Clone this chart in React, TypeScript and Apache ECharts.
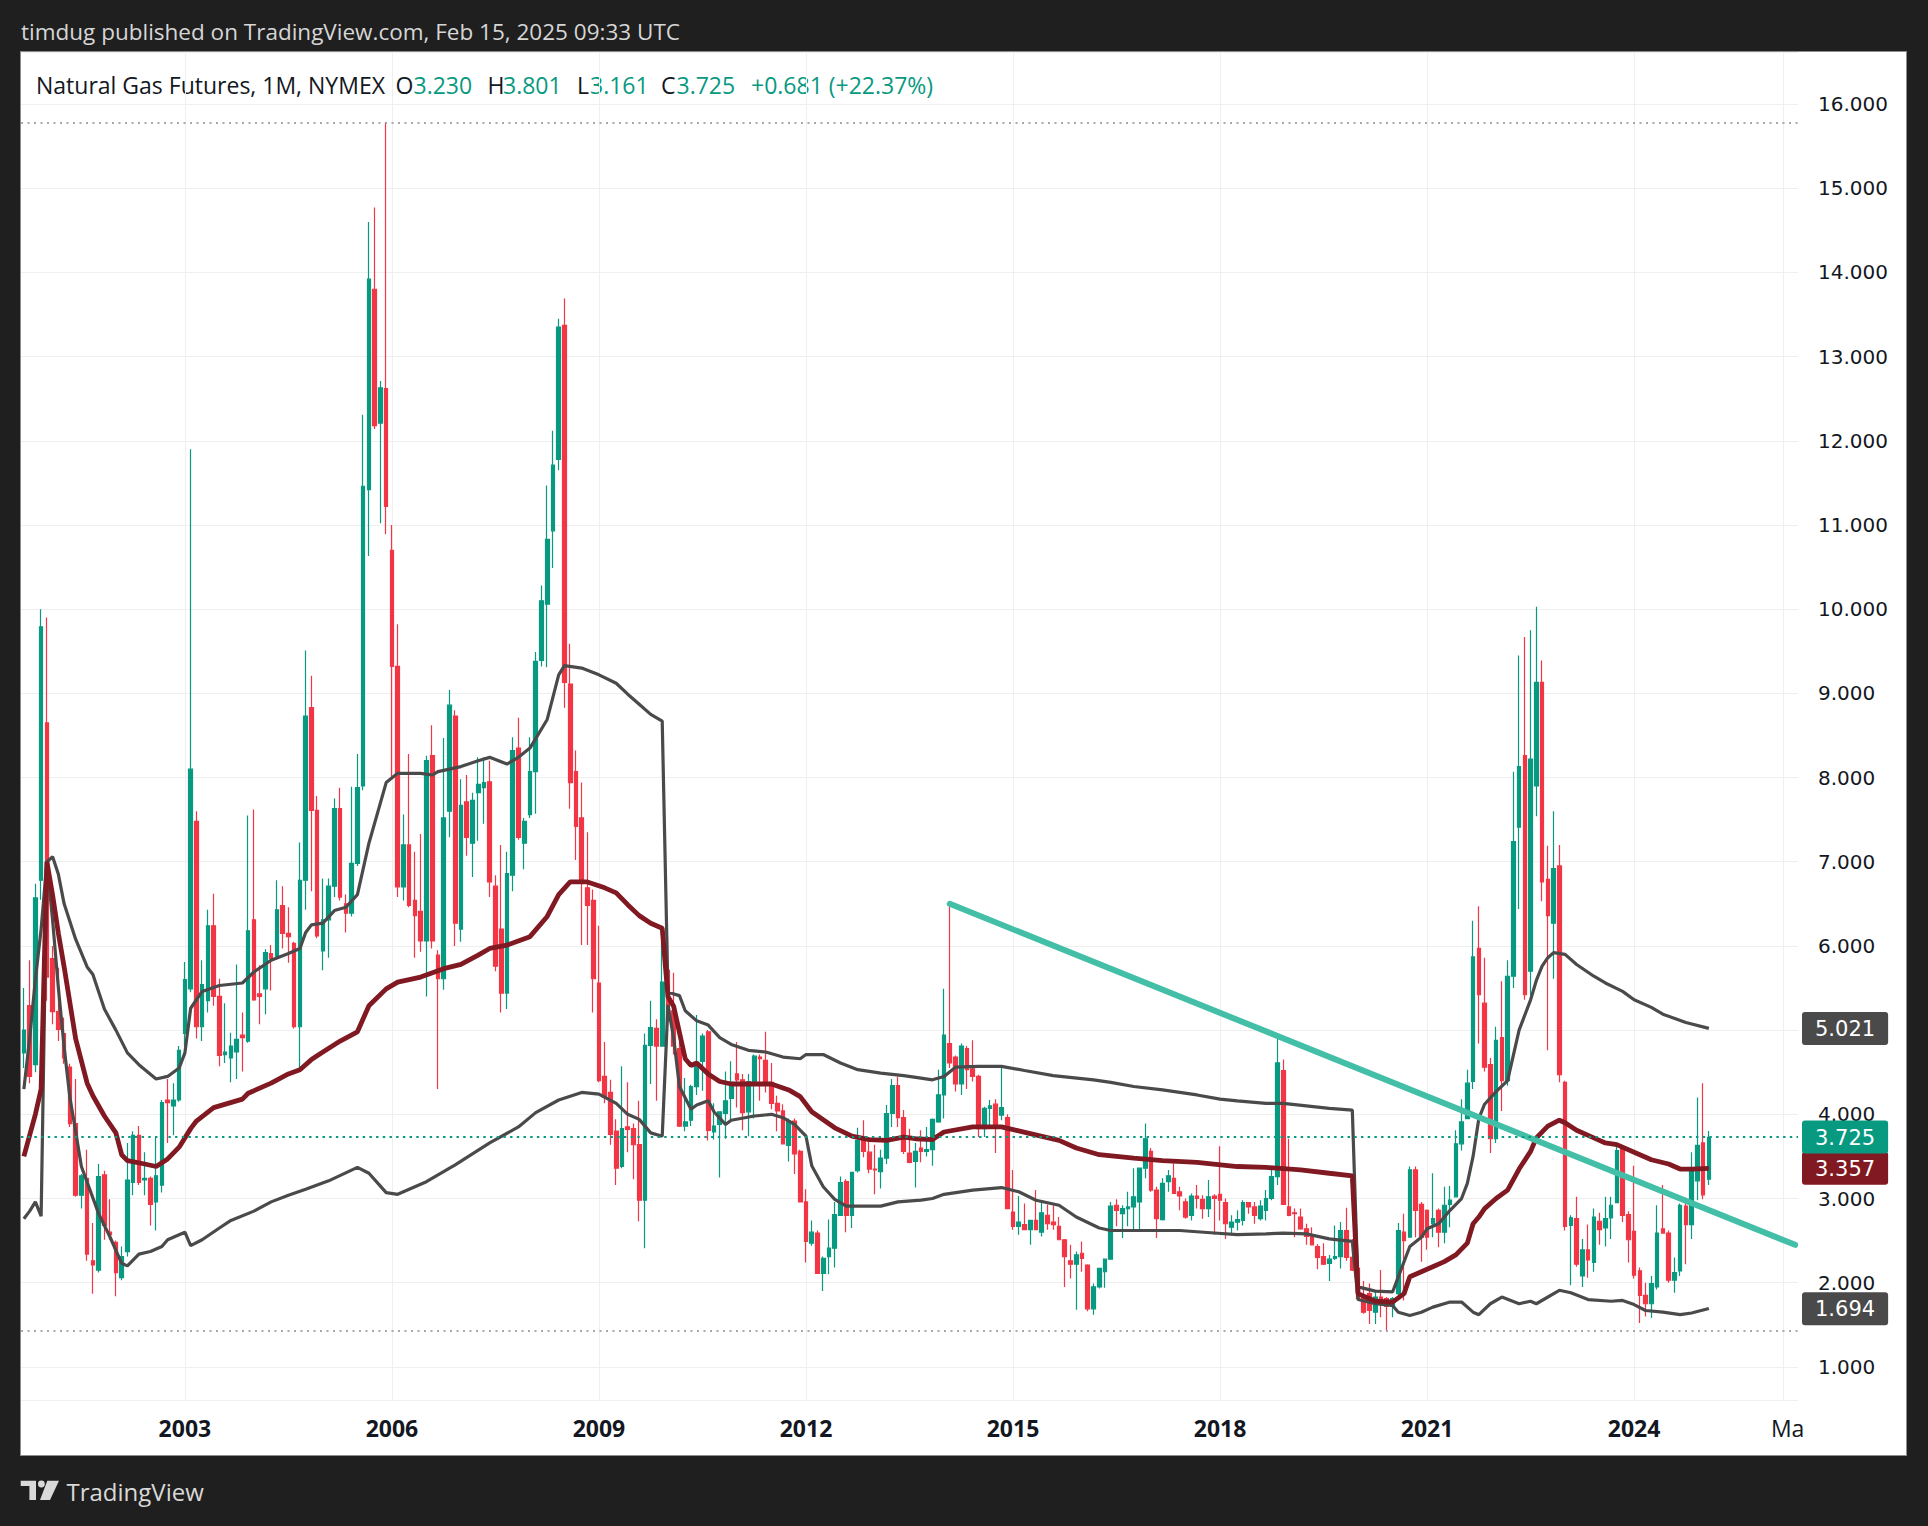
import React, { useEffect, useRef } from "react";
import * as echarts from "echarts";

// ---------- categories: monthly bars Sep 2000 .. May 2026 ----------
const FIRST_MONTH_ABS = 2000 * 12 + 8; // Sep 2000
const MONTH_COUNT = 309;
const categories: string[] = [];
for (let k = 0; k < MONTH_COUNT; k++) {
  const t = FIRST_MONTH_ABS + k;
  categories.push(`${Math.floor(t / 12)}-${String((t % 12) + 1).padStart(2, "0")}`);
}

// time-axis labels
const yearLabels = ["2003", "2006", "2009", "2012", "2015", "2018", "2021", "2024"];
const edgeLabelMonth = "2026-03";
const edgeLabelText = "Ma";

// ---------- monthly candles [open, high, low, close] ----------
const ohlc2000 = [
  [4.73, 5.5, 4.55, 5.0],
  [5.29, 5.83, 4.37, 4.45],
  [4.59, 6.74, 4.5, 6.57],
  [6.78, 10.0, 6.55, 9.79],
];
const ohlc2001 = [
  [8.65, 9.9, 5.35, 5.63], [5.85, 6.0, 5.07, 5.22], [5.22, 5.74, 4.87, 5.01], [4.96, 5.15, 4.6, 4.67],
  [4.56, 4.6, 3.85, 3.89], [3.89, 4.42, 3.02, 3.04], [3.04, 3.29, 2.88, 3.27], [3.24, 3.58, 2.26, 2.34],
  [2.26, 2.71, 1.87, 2.21], [2.15, 3.41, 2.12, 3.26], [3.28, 3.33, 2.51, 2.68], [2.6, 2.99, 2.51, 2.57],
];
const ohlc2002 = [
  [2.48, 2.5, 1.84, 2.12], [2.06, 2.43, 2.03, 2.31], [2.37, 3.66, 2.31, 3.22], [3.19, 3.8, 3.04, 3.75],
  [3.75, 3.86, 3.16, 3.19], [3.22, 3.55, 3.04, 3.24], [3.24, 3.26, 2.68, 2.93], [2.96, 3.72, 2.62, 3.27],
  [3.16, 4.17, 3.07, 4.14], [4.17, 4.42, 3.66, 4.14], [4.1, 4.37, 3.75, 4.17], [4.17, 4.81, 4.15, 4.76],
];
const ohlc2003 = [
  [4.96, 5.81, 4.81, 5.6], [5.49, 11.9, 5.45, 8.1], [7.48, 7.6, 4.9, 5.04], [5.04, 5.83, 4.87, 5.54],
  [5.35, 6.43, 5.21, 6.24], [6.24, 6.62, 5.29, 5.4], [5.4, 5.61, 4.57, 4.7], [4.71, 5.32, 4.61, 4.74],
  [4.67, 4.97, 4.38, 4.81], [4.74, 5.78, 4.42, 4.89], [4.94, 5.21, 4.51, 4.91], [4.87, 7.55, 4.85, 6.18],
];
const ohlc2004 = [
  [6.31, 7.62, 5.35, 5.36], [5.43, 5.77, 5.07, 5.4], [5.49, 5.96, 5.19, 5.92], [5.91, 6.01, 5.47, 5.85],
  [5.88, 6.78, 5.84, 6.43], [6.48, 6.71, 5.97, 6.15], [6.15, 6.46, 5.8, 6.11], [6.03, 6.05, 5.02, 5.04],
  [5.04, 7.23, 4.51, 6.78], [6.78, 9.51, 6.43, 8.73], [8.83, 9.21, 6.65, 7.61], [7.61, 7.78, 6.09, 6.12],
];
const ohlc2005 = [
  [5.94, 6.8, 5.71, 6.31], [6.31, 6.8, 5.86, 6.71], [6.71, 7.75, 6.58, 7.63], [7.63, 7.88, 6.54, 6.58],
  [6.5, 6.61, 6.16, 6.39], [6.39, 7.89, 6.35, 6.98], [6.98, 8.28, 6.95, 7.88], [7.9, 12.31, 7.85, 11.46],
  [11.42, 14.6, 10.63, 13.92], [13.8, 14.77, 12.14, 12.18], [12.21, 12.71, 11.02, 12.63], [12.62, 15.78, 10.89, 11.22],
];
const ohlc2006 = [
  [10.7, 11.0, 8.01, 9.32], [9.32, 9.82, 6.58, 6.7], [6.7, 7.56, 6.54, 7.2], [7.2, 8.28, 6.46, 6.48],
  [6.54, 7.12, 5.86, 6.36], [6.41, 7.33, 5.93, 6.06], [6.06, 8.26, 5.4, 8.2], [8.26, 8.62, 5.97, 6.06],
  [5.89, 5.95, 4.3, 5.61], [5.61, 8.47, 5.48, 7.52], [7.6, 9.04, 7.29, 8.86], [8.73, 8.8, 6.0, 6.27],
];
const ohlc2007 = [
  [6.2, 7.98, 6.05, 7.67], [7.71, 8.03, 7.07, 7.29], [7.22, 7.82, 6.82, 7.73], [7.82, 8.24, 7.25, 7.92],
  [7.88, 8.24, 7.45, 7.94], [7.95, 8.2, 6.58, 6.76], [6.71, 6.84, 5.7, 5.76], [6.2, 7.2, 5.21, 5.44],
  [5.44, 7.12, 5.25, 6.86], [6.84, 8.48, 6.65, 8.32], [8.35, 8.71, 7.26, 7.29], [7.22, 7.52, 6.91, 7.48],
];
const ohlc2008 = [
  [7.56, 8.48, 7.52, 8.07], [8.07, 9.49, 7.57, 9.38], [9.39, 10.28, 9.32, 10.1], [10.06, 11.47, 9.31, 10.83],
  [10.93, 12.12, 10.49, 11.71], [11.78, 13.45, 11.65, 13.35], [13.37, 13.69, 8.83, 9.13], [9.11, 9.59, 7.63, 7.94],
  [8.07, 8.32, 7.02, 7.42], [7.52, 7.94, 6.01, 6.76], [6.69, 7.35, 6.01, 6.48], [6.54, 6.67, 5.21, 5.61],
];
const ohlc2009 = [
  [5.56, 6.24, 4.38, 4.4], [4.45, 4.86, 4.13, 4.2], [4.26, 4.41, 3.64, 3.76], [3.8, 3.94, 3.16, 3.36],
  [3.38, 4.57, 3.36, 3.83], [3.85, 4.38, 3.55, 3.82], [3.83, 3.89, 3.23, 3.64], [3.64, 4.16, 2.73, 2.98],
  [2.98, 4.96, 2.41, 4.82], [4.82, 5.35, 4.36, 5.03], [5.02, 5.13, 4.16, 4.81], [4.81, 6.04, 4.81, 5.57],
];
const ohlc2010 = [
  [5.71, 6.11, 5.11, 5.11], [5.23, 5.68, 4.71, 4.81], [4.78, 4.86, 3.85, 3.86], [3.86, 4.43, 3.8, 3.91],
  [3.93, 4.35, 3.86, 4.33], [4.33, 5.18, 4.23, 4.61], [4.63, 4.96, 4.28, 4.93], [4.98, 5.0, 3.69, 3.81],
  [3.79, 4.13, 3.7, 3.86], [3.88, 4.03, 3.25, 4.03], [4.01, 4.51, 3.71, 4.16], [4.19, 4.63, 3.93, 4.38],
];
const ohlc2011 = [
  [4.48, 4.86, 4.08, 4.41], [4.41, 4.48, 3.81, 4.02], [4.03, 4.48, 3.74, 4.39], [4.39, 4.71, 3.95, 4.69],
  [4.68, 4.71, 4.16, 4.66], [4.64, 4.98, 4.26, 4.39], [4.38, 4.61, 4.06, 4.13], [4.13, 4.22, 3.8, 4.04],
  [4.04, 4.12, 3.65, 3.65], [3.63, 3.95, 3.44, 3.92], [3.92, 3.95, 3.29, 3.53], [3.56, 3.58, 2.96, 2.96],
];
const ohlc2012 = [
  [2.96, 3.11, 2.24, 2.49], [2.47, 2.74, 2.44, 2.6], [2.59, 2.62, 2.11, 2.11], [2.11, 2.31, 1.9, 2.29],
  [2.31, 2.75, 2.1, 2.41], [2.41, 2.96, 2.18, 2.81], [2.8, 3.26, 2.8, 3.19], [3.2, 3.23, 2.6, 2.8],
  [2.8, 3.31, 2.65, 3.31], [3.33, 3.84, 3.31, 3.69], [3.69, 3.93, 3.49, 3.56], [3.55, 3.69, 3.3, 3.35],
];
const ohlc2013 = [
  [3.35, 3.64, 3.05, 3.34], [3.32, 3.58, 3.12, 3.48], [3.48, 4.11, 3.41, 4.01], [4.01, 4.42, 3.85, 4.34],
  [4.34, 4.45, 3.85, 3.96], [3.96, 4.05, 3.53, 3.56], [3.54, 3.83, 3.42, 3.43], [3.44, 3.66, 3.13, 3.56],
  [3.6, 3.81, 3.43, 3.56], [3.56, 3.85, 3.5, 3.58], [3.58, 3.95, 3.39, 3.94], [3.91, 4.53, 3.9, 4.23],
];
const ohlc2014 = [
  [4.23, 5.49, 3.95, 4.94], [4.84, 6.49, 4.55, 4.61], [4.68, 4.7, 4.27, 4.36], [4.36, 4.84, 4.23, 4.81],
  [4.78, 4.81, 4.3, 4.53], [4.54, 4.88, 4.39, 4.45], [4.45, 4.47, 3.73, 3.83], [3.83, 4.09, 3.73, 4.07],
  [4.07, 4.17, 3.85, 4.1], [4.12, 4.18, 3.54, 3.85], [3.99, 4.55, 3.93, 4.08], [3.96, 4.0, 2.88, 2.88],
];
const ohlc2015 = [
  [2.84, 3.34, 2.63, 2.67], [2.67, 3.03, 2.57, 2.72], [2.69, 2.94, 2.63, 2.63], [2.63, 2.74, 2.45, 2.74],
  [2.74, 3.1, 2.63, 2.63], [2.6, 2.95, 2.55, 2.83], [2.8, 2.93, 2.63, 2.7], [2.72, 2.92, 2.63, 2.69],
  [2.67, 2.78, 2.51, 2.51], [2.51, 2.52, 1.95, 2.31], [2.26, 2.45, 2.05, 2.22], [2.22, 2.37, 1.68, 2.33],
];
const ohlc2016 = [
  [2.35, 2.49, 2.13, 2.29], [2.21, 2.22, 1.66, 1.69], [1.69, 1.99, 1.62, 1.95], [1.95, 2.17, 1.93, 2.17],
  [2.13, 2.28, 1.94, 2.28], [2.28, 2.96, 2.28, 2.91], [2.92, 2.99, 2.67, 2.86], [2.82, 2.92, 2.53, 2.88],
  [2.88, 3.08, 2.67, 2.9], [2.9, 3.36, 2.63, 3.02], [2.96, 3.36, 2.61, 3.36], [3.36, 3.89, 3.24, 3.71],
];
const ohlc2017 = [
  [3.56, 3.6, 3.08, 3.1], [3.1, 3.14, 2.53, 2.76], [2.75, 3.24, 2.74, 3.18], [3.2, 3.34, 3.08, 3.27],
  [3.24, 3.42, 3.06, 3.06], [3.08, 3.14, 2.86, 3.03], [2.96, 3.0, 2.76, 2.78], [2.8, 3.06, 2.74, 3.03],
  [3.03, 3.16, 2.88, 3.0], [2.99, 3.04, 2.76, 2.88], [2.88, 3.22, 2.78, 3.02], [3.03, 3.05, 2.57, 3.0],
];
const ohlc2018 = [
  [3.05, 3.62, 2.74, 2.98], [2.95, 3.0, 2.52, 2.7], [2.66, 2.8, 2.56, 2.72], [2.72, 2.86, 2.62, 2.75],
  [2.74, 2.98, 2.68, 2.95], [2.95, 2.96, 2.82, 2.9], [2.9, 2.96, 2.7, 2.8], [2.76, 2.98, 2.74, 2.91],
  [2.86, 3.1, 2.74, 3.0], [3.0, 3.38, 2.98, 3.26], [3.26, 4.93, 3.16, 4.61], [4.52, 4.65, 2.93, 2.93],
];
const ohlc2019 = [
  [2.9, 3.71, 2.79, 2.8], [2.83, 2.88, 2.54, 2.82], [2.78, 2.88, 2.63, 2.64], [2.64, 2.7, 2.45, 2.55],
  [2.55, 2.66, 2.45, 2.45], [2.43, 2.46, 2.16, 2.3], [2.31, 2.47, 2.21, 2.22], [2.23, 2.33, 2.02, 2.28],
  [2.29, 2.68, 2.27, 2.31], [2.31, 2.72, 2.17, 2.62], [2.62, 2.89, 2.26, 2.3], [2.3, 2.52, 2.14, 2.15],
];
const ohlc2020 = [
  [2.17, 2.27, 1.81, 1.81], [1.83, 2.02, 1.63, 1.65], [1.87, 1.99, 1.51, 1.67], [1.65, 1.89, 1.51, 1.83],
  [1.83, 2.15, 1.59, 1.75], [1.81, 1.83, 1.432, 1.72], [1.72, 1.83, 1.59, 1.81], [1.87, 2.71, 1.85, 2.62],
  [2.6, 2.82, 1.79, 2.5], [2.54, 3.38, 2.54, 3.34], [3.34, 3.38, 2.54, 2.86], [2.93, 2.96, 2.25, 2.54],
];
const ohlc2021 = [
  [2.86, 2.87, 2.39, 2.54], [2.7, 3.3, 2.54, 2.76], [2.86, 2.88, 2.42, 2.6], [2.6, 3.14, 2.47, 2.92],
  [2.93, 3.15, 2.66, 2.98], [3.02, 3.81, 3.02, 3.65], [3.65, 4.18, 3.57, 3.91], [3.95, 4.53, 3.94, 4.37],
  [4.39, 6.3, 4.3, 5.87], [5.97, 6.47, 4.84, 5.42], [5.32, 5.86, 4.51, 4.56], [4.59, 4.67, 3.54, 3.71],
];
const ohlc2022 = [
  [3.71, 5.04, 3.66, 4.88], [4.91, 5.58, 4.04, 4.4], [4.4, 5.83, 4.34, 5.64], [5.64, 8.07, 5.5, 7.24],
  [7.41, 9.45, 6.44, 8.13], [8.26, 9.67, 5.36, 5.42], [5.7, 9.75, 5.41, 8.22], [7.9, 10.03, 7.54, 9.13],
  [9.13, 9.39, 6.53, 6.76], [6.79, 7.19, 4.76, 6.36], [6.27, 7.6, 5.61, 6.92], [6.95, 7.2, 4.38, 4.47],
];
const ohlc2023 = [
  [4.38, 4.4, 2.62, 2.67], [2.68, 2.8, 1.97, 2.77], [2.76, 3.02, 2.19, 2.22], [2.08, 2.52, 1.95, 2.39],
  [2.39, 2.69, 2.06, 2.27], [2.24, 2.88, 2.13, 2.78], [2.73, 2.83, 2.45, 2.63], [2.65, 3.02, 2.43, 2.76],
  [2.77, 3.02, 2.52, 2.92], [2.95, 3.65, 2.95, 3.57], [3.6, 3.6, 2.72, 2.8], [2.81, 2.85, 2.24, 2.51],
];
const ohlc2024 = [
  [2.61, 3.39, 2.05, 2.09], [2.14, 2.18, 1.52, 1.85], [1.85, 2.0, 1.6, 1.75], [1.75, 2.08, 1.58, 1.99],
  [1.95, 2.92, 1.92, 2.59], [2.64, 3.16, 2.59, 2.59], [2.59, 2.62, 2.0, 2.03], [2.03, 2.3, 1.88, 2.12],
  [2.14, 2.94, 2.08, 2.92], [2.91, 3.01, 2.22, 2.69], [2.69, 3.55, 2.52, 3.35], [3.21, 4.2, 2.98, 3.63],
];
const ohlc2025 = [
  [3.66, 4.37, 2.99, 3.044],
  [3.23, 3.801, 3.161, 3.725],
];

// ---------- indicator lines ----------
const upperBand: [string, number][] = [
  ["2000-09", 4.3], ["2000-10", 4.9], ["2000-11", 5.6], ["2000-12", 6.2], ["2001-01", 7.0], ["2001-02", 7.06],
  ["2001-03", 6.85], ["2001-04", 6.5], ["2001-06", 6.08], ["2001-08", 5.75], ["2001-09", 5.66], ["2001-11", 5.25],
  ["2002-01", 5.0], ["2002-03", 4.73], ["2002-05", 4.59], ["2002-08", 4.42], ["2002-10", 4.45], ["2002-12", 4.55],
  ["2003-01", 4.73], ["2003-02", 5.26], ["2003-04", 5.46], ["2003-07", 5.53], ["2003-11", 5.56], ["2004-01", 5.69],
  ["2004-04", 5.83], ["2004-07", 5.91], ["2004-09", 5.97], ["2004-10", 6.16], ["2004-11", 6.25], ["2005-01", 6.27],
  ["2005-03", 6.42], ["2005-05", 6.46], ["2005-07", 6.61], ["2005-09", 7.22], ["2005-12", 7.94], ["2006-02", 8.05],
  ["2006-06", 8.05], ["2006-08", 8.03], ["2006-09", 8.07], ["2007-01", 8.13], ["2007-04", 8.2], ["2007-06", 8.24],
  ["2007-09", 8.16], ["2007-11", 8.24], ["2008-01", 8.35], ["2008-04", 8.69], ["2008-06", 9.22], ["2008-07", 9.33],
  ["2008-10", 9.3], ["2009-01", 9.22], ["2009-04", 9.12], ["2009-06", 8.99], ["2009-08", 8.87], ["2009-10", 8.75],
  ["2009-12", 8.67], ["2010-01", 5.45], ["2010-03", 5.41], ["2010-04", 5.23], ["2010-06", 5.11], ["2010-08", 5.06],
  ["2010-10", 4.91], ["2010-12", 4.83], ["2011-03", 4.76], ["2011-06", 4.74], ["2011-09", 4.68], ["2011-12", 4.66],
  ["2012-01", 4.71], ["2012-04", 4.71], ["2012-07", 4.61], ["2012-10", 4.53], ["2013-02", 4.49], ["2013-06", 4.46],
  ["2013-09", 4.43], ["2013-11", 4.41], ["2014-01", 4.45], ["2014-03", 4.56], ["2014-07", 4.57], ["2014-11", 4.57],
  ["2015-03", 4.52], ["2015-08", 4.46], ["2016-03", 4.41], ["2016-06", 4.38], ["2016-10", 4.33], ["2017-03", 4.29],
  ["2017-09", 4.23], ["2018-01", 4.18], ["2018-04", 4.16], ["2018-09", 4.13], ["2018-12", 4.13], ["2019-04", 4.1],
  ["2019-08", 4.07], ["2019-12", 4.05], ["2020-01", 1.95], ["2020-04", 1.9], ["2020-07", 1.89], ["2020-08", 2.07],
  ["2020-10", 2.43], ["2020-12", 2.54], ["2021-01", 2.64], ["2021-03", 2.7], ["2021-05", 2.86], ["2021-07", 3.0],
  ["2021-08", 3.18], ["2021-09", 3.5], ["2021-10", 3.95], ["2021-11", 4.12], ["2022-01", 4.27], ["2022-03", 4.4],
  ["2022-04", 4.7], ["2022-05", 5.0], ["2022-07", 5.36], ["2022-08", 5.59], ["2022-09", 5.76], ["2022-10", 5.86],
  ["2022-11", 5.92], ["2023-01", 5.9], ["2023-03", 5.78], ["2023-06", 5.64], ["2023-08", 5.56], ["2023-11", 5.46],
  ["2024-01", 5.36], ["2024-04", 5.27], ["2024-06", 5.19], ["2024-10", 5.09], ["2025-02", 5.021],
];
const vwapLine: [string, number][] = [
  ["2000-09", 3.5], ["2000-10", 3.75], ["2000-11", 4.0], ["2000-12", 4.3], ["2001-01", 7.0], ["2001-02", 6.6],
  ["2001-03", 6.15], ["2001-04", 5.75], ["2001-06", 4.9], ["2001-08", 4.37], ["2001-09", 4.22], ["2001-11", 3.98],
  ["2002-01", 3.78], ["2002-02", 3.52], ["2002-03", 3.45], ["2002-06", 3.41], ["2002-08", 3.38], ["2002-10", 3.47],
  ["2002-12", 3.61], ["2003-02", 3.83], ["2003-03", 3.92], ["2003-06", 4.08], ["2003-11", 4.18], ["2003-12", 4.25],
  ["2004-04", 4.37], ["2004-07", 4.48], ["2004-09", 4.53], ["2004-11", 4.65], ["2005-01", 4.74], ["2005-04", 4.87],
  ["2005-07", 4.98], ["2005-09", 5.29], ["2005-12", 5.49], ["2006-02", 5.57], ["2006-06", 5.63], ["2006-10", 5.73],
  ["2007-01", 5.78], ["2007-04", 5.89], ["2007-06", 5.97], ["2007-09", 6.01], ["2008-01", 6.11], ["2008-04", 6.35],
  ["2008-06", 6.61], ["2008-08", 6.76], ["2008-11", 6.76], ["2009-02", 6.69], ["2009-04", 6.63], ["2009-06", 6.49],
  ["2009-08", 6.36], ["2009-10", 6.27], ["2009-12", 6.21], ["2010-01", 5.4], ["2010-02", 5.28], ["2010-04", 4.66],
  ["2010-05", 4.58], ["2010-06", 4.61], ["2010-08", 4.48], ["2010-10", 4.39], ["2010-12", 4.36], ["2011-07", 4.36],
  ["2011-10", 4.29], ["2011-12", 4.21], ["2012-02", 4.03], ["2012-06", 3.84], ["2012-09", 3.74], ["2012-12", 3.7],
  ["2013-03", 3.69], ["2013-06", 3.73], ["2013-08", 3.71], ["2013-11", 3.7], ["2014-01", 3.79], ["2014-06", 3.85],
  ["2014-11", 3.85], ["2015-04", 3.77], ["2015-09", 3.69], ["2015-12", 3.6], ["2016-04", 3.52], ["2016-10", 3.48],
  ["2017-03", 3.45], ["2017-09", 3.43], ["2018-04", 3.38], ["2018-09", 3.37], ["2019-03", 3.34], ["2019-08", 3.3],
  ["2019-12", 3.27], ["2020-01", 1.87], ["2020-04", 1.78], ["2020-07", 1.77], ["2020-09", 1.87], ["2020-10", 2.07],
  ["2020-12", 2.13], ["2021-02", 2.19], ["2021-04", 2.25], ["2021-06", 2.33], ["2021-08", 2.47], ["2021-09", 2.7],
  ["2021-10", 2.78], ["2021-11", 2.88], ["2022-01", 3.0], ["2022-03", 3.1], ["2022-05", 3.35], ["2022-07", 3.56],
  ["2022-08", 3.72], ["2022-10", 3.86], ["2022-12", 3.93], ["2023-01", 3.9], ["2023-03", 3.81], ["2023-06", 3.72],
  ["2023-08", 3.66], ["2023-10", 3.64], ["2024-01", 3.55], ["2024-04", 3.46], ["2024-07", 3.41], ["2024-09", 3.35],
  ["2024-11", 3.35], ["2025-02", 3.357],
];
const lowerBand: [string, number][] = [
  ["2000-09", 2.76], ["2000-10", 2.85], ["2000-11", 2.96], ["2000-12", 2.79], ["2001-01", 7.0], ["2001-02", 6.3],
  ["2001-03", 5.5], ["2001-04", 4.8], ["2001-05", 4.2], ["2001-06", 3.8], ["2001-07", 3.38], ["2001-10", 2.82],
  ["2001-12", 2.54], ["2002-02", 2.23], ["2002-03", 2.2], ["2002-05", 2.34], ["2002-07", 2.37], ["2002-09", 2.43],
  ["2002-10", 2.51], ["2003-01", 2.6], ["2003-02", 2.44], ["2003-04", 2.51], ["2003-07", 2.65], ["2003-09", 2.74],
  ["2004-01", 2.85], ["2004-04", 2.96], ["2004-07", 3.04], ["2004-10", 3.11], ["2005-02", 3.21], ["2005-07", 3.37],
  ["2005-09", 3.3], ["2005-12", 3.07], ["2006-02", 3.05], ["2006-07", 3.2], ["2006-12", 3.4], ["2007-06", 3.66],
  ["2007-11", 3.85], ["2008-02", 4.02], ["2008-06", 4.17], ["2008-10", 4.26], ["2009-01", 4.24], ["2009-04", 4.13],
  ["2009-06", 4.0], ["2009-08", 3.94], ["2009-10", 3.78], ["2009-12", 3.74], ["2010-01", 5.3], ["2010-02", 4.9],
  ["2010-03", 4.33], ["2010-05", 4.06], ["2010-06", 4.11], ["2010-08", 4.16], ["2010-09", 4.03], ["2010-11", 3.88],
  ["2010-12", 3.93], ["2011-04", 3.98], ["2011-07", 4.0], ["2011-09", 3.96], ["2011-11", 3.88], ["2012-01", 3.74],
  ["2012-02", 3.39], ["2012-04", 3.14], ["2012-06", 2.99], ["2012-08", 2.91], ["2013-02", 2.91], ["2013-05", 2.96],
  ["2013-09", 2.98], ["2013-11", 3.0], ["2014-01", 3.05], ["2014-06", 3.1], ["2014-11", 3.13], ["2015-02", 3.08],
  ["2015-05", 2.98], ["2015-09", 2.92], ["2015-12", 2.78], ["2016-04", 2.65], ["2016-06", 2.62], ["2016-12", 2.62],
  ["2017-06", 2.62], ["2017-12", 2.59], ["2018-04", 2.57], ["2018-09", 2.58], ["2018-12", 2.59], ["2019-04", 2.58],
  ["2019-08", 2.52], ["2019-12", 2.49], ["2020-01", 1.8], ["2020-04", 1.75], ["2020-07", 1.73], ["2020-08", 1.65],
  ["2020-10", 1.61], ["2020-12", 1.65], ["2021-02", 1.71], ["2021-05", 1.77], ["2021-07", 1.77], ["2021-09", 1.65],
  ["2021-10", 1.62], ["2021-12", 1.75], ["2022-02", 1.83], ["2022-05", 1.75], ["2022-07", 1.78], ["2022-08", 1.75],
  ["2022-12", 1.91], ["2023-02", 1.88], ["2023-05", 1.8], ["2023-09", 1.78], ["2023-11", 1.79], ["2024-01", 1.74],
  ["2024-03", 1.67], ["2024-06", 1.65], ["2024-09", 1.62], ["2024-11", 1.64], ["2025-02", 1.694],
];
const trendLine: [string, number][] = [
  ["2014-02", 6.5],
  ["2026-05", 2.45],
];

// ---------- texts ----------
const headerText = "timdug published on TradingView.com, Feb 15, 2025 09:33 UTC";
const symbolTitle = "Natural Gas Futures, 1M, NYMEX";
const brandText = "TradingView";

// ---------- colours ----------
const UP = "#089981";
const DOWN = "#f23645";
const BAND = "#4a4a4a";
const VWAP = "#801921";
const TREND = "#43bfa7";
const GRID = "#efefef";
const TEXT = "#131722";

const LOGO_PATH =
  "M0 0H15.3V19.3H8.7V5.3H0Z M24.1 3.3A3.4 3.4 0 1 1 17.3 3.3A3.4 3.4 0 1 1 24.1 3.3Z M26.6 0H38.3L29.3 19.3H19.3Z";
echarts.graphic.registerShape("tvlogo", echarts.graphic.extendPath(LOGO_PATH, {}) as any);

function legendPiece(text: string, x: number, color: string) {
  return {
    type: "text",
    x,
    y: 85,
    silent: true,
    style: {
      text,
      fill: color,
      fontFamily: "Open Sans",
      fontSize: 23,
      verticalAlign: "middle",
      align: "left",
    },
  };
}

function buildOption() {
  const indexOf = new Map<string, number>();
  categories.forEach((c, i) => indexOf.set(c, i));
  const toPts = (arr: [string, number][]) => arr.map(([m, v]) => [indexOf.get(m), v]);

  const ohlc = [
    ...ohlc2000, ...ohlc2001, ...ohlc2002, ...ohlc2003, ...ohlc2004, ...ohlc2005, ...ohlc2006,
    ...ohlc2007, ...ohlc2008, ...ohlc2009, ...ohlc2010, ...ohlc2011, ...ohlc2012, ...ohlc2013,
    ...ohlc2014, ...ohlc2015, ...ohlc2016, ...ohlc2017, ...ohlc2018, ...ohlc2019, ...ohlc2020,
    ...ohlc2021, ...ohlc2022, ...ohlc2023, ...ohlc2024, ...ohlc2025,
  ];
  const candleData = ohlc.map(([o, h, l, c]) => [o, c, l, h]);
  const maxHigh = Math.max(...ohlc.map((r) => r[1]));
  const minLow = Math.min(...ohlc.map((r) => r[2]));
  const last = ohlc[ohlc.length - 1];
  const prev = ohlc[ohlc.length - 2];
  const change = last[3] - prev[3];
  const changePct = (change / prev[3]) * 100;
  const sign = change >= 0 ? "+" : "";

  const labelMonths = new Set<string>([...yearLabels.map((y) => `${y}-01`), edgeLabelMonth]);
  const gridMonths = [...yearLabels.map((y) => `${y}-01`), edgeLabelMonth];

  const boxLabel = (value: number, bg: string) => ({
    show: true,
    position: "end",
    distance: 4,
    formatter: `{v|${value.toFixed(3)}}`,
    backgroundColor: bg,
    borderRadius: 3,
    padding: [6, 13, 5, 13],
    rich: {
      v: {
        color: "#ffffff",
        fontFamily: "DejaVu Sans",
        fontSize: 21,
        lineHeight: 22,
      },
    },
  });
  const hidden = { color: "rgba(0,0,0,0)", width: 0 };

  const upperLast = upperBand[upperBand.length - 1][1];
  const vwapLast = vwapLine[vwapLine.length - 1][1];
  const lowerLast = lowerBand[lowerBand.length - 1][1];

  return {
    animation: false,
    backgroundColor: "transparent",
    grid: { left: 21, right: 130, top: 52, bottom: 126, containLabel: false },
    xAxis: {
      type: "category",
      data: categories,
      boundaryGap: true,
      axisLine: { show: false },
      axisTick: { show: false },
      splitLine: { show: false },
      axisLabel: {
        interval: (_i: number, val: string) => labelMonths.has(val),
        margin: 16,
        hideOverlap: false,
        formatter: (val: string) =>
          val === edgeLabelMonth ? `{m|${edgeLabelText}}` : `{y|${val.slice(0, 4)}}`,
        rich: {
          y: { fontFamily: "Open Sans", fontSize: 23, fontWeight: "bold", color: TEXT },
          m: { fontFamily: "Open Sans", fontSize: 23, fontWeight: "normal", color: TEXT, padding: [0, 0, 0, 8] },
        },
      },
    },
    yAxis: {
      type: "value",
      position: "right",
      min: 0.6068,
      max: 16.6177,
      splitNumber: 16,
      minInterval: 1,
      maxInterval: 1,
      axisLine: { show: false },
      axisTick: { show: false },
      splitLine: { show: true, lineStyle: { color: GRID, width: 1 } },
      axisLabel: {
        showMinLabel: false,
        showMaxLabel: false,
        margin: 20,
        color: TEXT,
        fontFamily: "DejaVu Sans",
        fontSize: 20,
        formatter: (v: number) => v.toFixed(3),
      },
    },
    graphic: [
      {
        type: "text",
        x: 21,
        y: 31,
        silent: true,
        style: {
          text: headerText,
          fill: "#d6d6d6",
          fontFamily: "Open Sans",
          fontSize: 22.5,
          verticalAlign: "middle",
          align: "left",
        },
      },
      legendPiece(symbolTitle, 36, TEXT),
      legendPiece("O", 395.5, TEXT),
      legendPiece(last[0].toFixed(3), 413.5, UP),
      legendPiece("H", 487.5, TEXT),
      legendPiece(last[1].toFixed(3), 503, UP),
      legendPiece("L", 577, TEXT),
      legendPiece(last[2].toFixed(3), 590, UP),
      legendPiece("C", 661, TEXT),
      legendPiece(last[3].toFixed(3), 676.5, UP),
      legendPiece(`${sign}${change.toFixed(3)} (${sign}${changePct.toFixed(2)}%)`, 751, UP),
      {
        type: "tvlogo",
        x: 20.7,
        y: 1480.7,
        silent: true,
        style: { fill: "#d9d9d9" },
      },
      {
        type: "text",
        x: 66.5,
        y: 1491,
        silent: true,
        style: {
          text: brandText,
          fill: "#d9d9d9",
          fontFamily: "Open Sans",
          fontSize: 24,
          verticalAlign: "middle",
          align: "left",
        },
      },
    ],
    series: [
      {
        type: "candlestick",
        name: "NG",
        data: candleData,
        barWidth: "72%",
        z: 2,
        itemStyle: {
          color: UP,
          color0: DOWN,
          borderColor: UP,
          borderColor0: DOWN,
          borderWidth: 1.2,
        },
        emphasis: { disabled: true },
        markLine: {
          silent: true,
          z: 1,
          symbol: ["none", "none"],
          label: { show: false },
          lineStyle: { color: GRID, width: 1, type: "solid" },
          emphasis: { disabled: true },
          data: gridMonths.map((m) => ({ xAxis: indexOf.get(m) })),
        },
      },
      {
        type: "line",
        name: "Upper band",
        data: toPts(upperBand),
        showSymbol: false,
        symbol: "none",
        z: 3,
        lineStyle: { color: BAND, width: 3.2 },
        emphasis: { disabled: true },
      },
      {
        type: "line",
        name: "Lower band",
        data: toPts(lowerBand),
        showSymbol: false,
        symbol: "none",
        z: 3,
        lineStyle: { color: BAND, width: 3.2 },
        emphasis: { disabled: true },
      },
      {
        type: "line",
        name: "VWAP",
        data: toPts(vwapLine),
        showSymbol: false,
        symbol: "none",
        z: 3,
        lineStyle: { color: VWAP, width: 4.8 },
        emphasis: { disabled: true },
      },
      {
        type: "line",
        name: "Trend",
        data: toPts(trendLine),
        showSymbol: false,
        symbol: "none",
        z: 4,
        lineStyle: { color: TREND, width: 6, cap: "round" },
        emphasis: { disabled: true },
        markLine: {
          silent: true,
          z: 10,
          symbol: ["none", "none"],
          emphasis: { disabled: true },
          data: [
            { yAxis: maxHigh, lineStyle: { color: "#8a8d96", width: 1.6, type: [2, 4.5] }, label: { show: false } },
            { yAxis: minLow, lineStyle: { color: "#8a8d96", width: 1.6, type: [2, 4.5] }, label: { show: false } },
            { yAxis: upperLast, lineStyle: hidden, label: boxLabel(upperLast, BAND) },
            { yAxis: lowerLast, lineStyle: hidden, label: boxLabel(lowerLast, BAND) },
            { yAxis: vwapLast, lineStyle: hidden, label: boxLabel(vwapLast, VWAP) },
            { yAxis: last[3], lineStyle: { color: UP, width: 1.8, type: [2.4, 4.3] }, label: boxLabel(last[3], UP) },
          ],
        },
      },
    ],
  };
}

export default function App() {
  const ref = useRef<HTMLDivElement>(null);
  useEffect(() => {
    document.body.style.margin = "0";
    document.body.style.overflow = "hidden";
    const chart = echarts.init(ref.current as HTMLDivElement, undefined, {
      renderer: "svg",
      width: 1928,
      height: 1526,
    });
    chart.setOption(buildOption() as any);
    return () => {
      chart.dispose();
    };
  }, []);
  return (
    <div
      style={{
        position: "absolute",
        left: 0,
        top: 0,
        width: 1928,
        height: 1526,
        background: "#1f1f1f",
        overflow: "hidden",
      }}
    >
      <div
        style={{
          position: "absolute",
          left: 20,
          top: 51,
          width: 1887,
          height: 1405,
          background: "#ffffff",
          border: "1px solid #8c8c8c",
          boxSizing: "border-box",
        }}
      />
      <div ref={ref} style={{ position: "absolute", left: 0, top: 0, width: 1928, height: 1526 }} />
    </div>
  );
}
